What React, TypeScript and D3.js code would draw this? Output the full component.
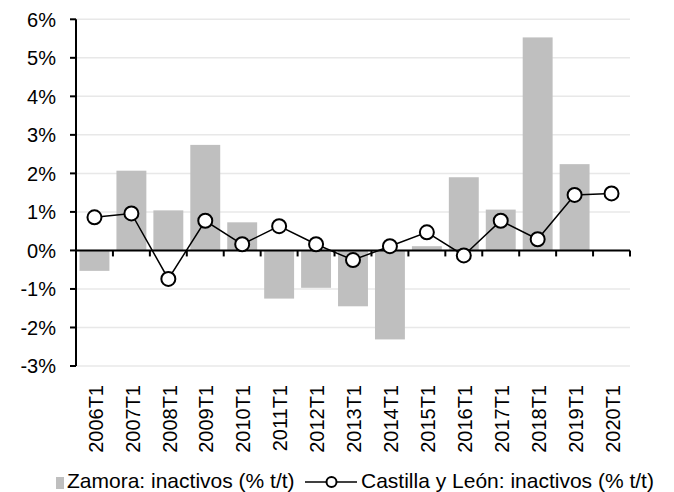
import React from "react";
import * as d3 from "d3";

const categories = ["2006T1","2007T1","2008T1","2009T1","2010T1","2011T1","2012T1","2013T1","2014T1","2015T1","2016T1","2017T1","2018T1","2019T1","2020T1"];
const zamora = [-0.53, 2.07, 1.04, 2.74, 0.73, -1.25, -0.97, -1.45, -2.31, 0.11, 1.9, 1.06, 5.53, 2.24, 0];
const cyl = [0.86, 0.96, -0.74, 0.77, 0.16, 0.63, 0.16, -0.25, 0.11, 0.47, -0.13, 0.77, 0.29, 1.44, 1.48];
const yTicks = [-3, -2, -1, 0, 1, 2, 3, 4, 5, 6];
const legendBar = "Zamora: inactivos (% t/t)";
const legendLine = "Castilla y León: inactivos (% t/t)";

export default function App() {
  const W = 674, H = 492;
  const left = 76, right = 630, top = 19.3, bottom = 366;
  const x = d3.scaleBand<string>().domain(categories).range([left, right]).paddingInner(0.19).paddingOuter(0.095);
  const xb = d3.scaleBand<string>().domain(categories).range([left, right]);
  const y = d3.scaleLinear().domain([-3, 6]).range([bottom, top]);
  const font = "Arial, 'Liberation Sans', sans-serif";
  const line = d3.line<number>().x((_, i) => (xb(categories[i]) as number) + xb.bandwidth() / 2).y(d => y(d));
  const boundaries = categories.map((_, i) => left + (i + 1) * xb.bandwidth());
  return (
    <svg width={W} height={H} style={{ position: "absolute", left: 0, top: 0 }} fontFamily={font}>
      <rect width={W} height={H} fill="#fff" />
      {yTicks.map(t => (
        <line key={"g" + t} x1={left} x2={right} y1={y(t)} y2={y(t)} stroke="#e8e8e8" strokeWidth={1.5} />
      ))}
      {zamora.map((v, i) => (
        <rect key={"b" + i} x={x(categories[i])} width={x.bandwidth()} y={Math.min(y(v), y(0))} height={Math.abs(y(v) - y(0))} fill="#bfbfbf" />
      ))}
      <line x1={left} x2={left} y1={top} y2={bottom} stroke="#000" strokeWidth={2} />
      {yTicks.map(t => (
        <g key={"t" + t}>
          <line x1={left - 6} x2={left} y1={y(t)} y2={y(t)} stroke="#000" strokeWidth={2} />
          <text x={left - 20} y={y(t)} dy="0.36em" textAnchor="end" fontSize={20} fill="#000">{t + "%"}</text>
        </g>
      ))}
      <line x1={left} x2={right} y1={y(0)} y2={y(0)} stroke="#000" strokeWidth={2} />
      {boundaries.map((bx, i) => (
        <line key={"xt" + i} x1={bx} x2={bx} y1={y(0)} y2={y(0) + 6} stroke="#000" strokeWidth={2} />
      ))}
      {categories.map(c => {
        const cx = (xb(c) as number) + xb.bandwidth() / 2 + 1;
        return (
          <text key={"l" + c} transform={`translate(${cx},385) rotate(-90)`} dy="0.36em" textAnchor="end" fontSize={20} fill="#000">{c}</text>
        );
      })}
      <path d={line(cyl) || ""} fill="none" stroke="#000" strokeWidth={1.5} />
      {cyl.map((v, i) => (
        <circle key={"m" + i} cx={(xb(categories[i]) as number) + xb.bandwidth() / 2} cy={y(v)} r={7} fill="#fff" stroke="#000" strokeWidth={2} />
      ))}
      <rect x={56} y={477} width={8} height={12} fill="#bfbfbf" />
      <text x={67} y={488} fontSize={21} fill="#000">{legendBar}</text>
      <line x1={305} x2={357} y1={482} y2={482} stroke="#000" strokeWidth={1.5} />
      <circle cx={331.5} cy={482} r={5} fill="#fff" stroke="#000" strokeWidth={2} />
      <text x={361} y={488} fontSize={21} fill="#000">{legendLine}</text>
    </svg>
  );
}
